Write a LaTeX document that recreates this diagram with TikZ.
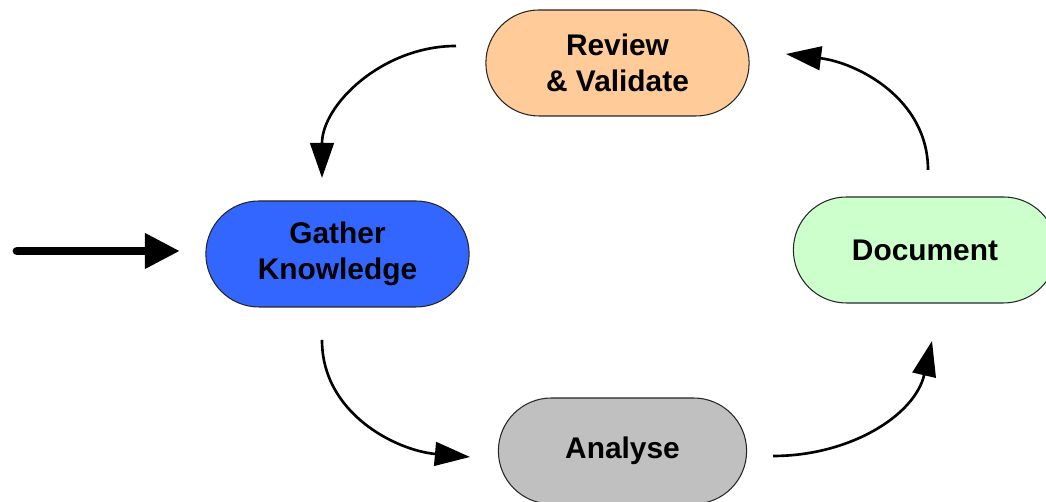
\documentclass[tikz,border=0pt]{standalone}
\usepackage{fontspec}
\setmainfont{Liberation Sans}
\usetikzlibrary{shapes.misc,arrows.meta}
\definecolor{colrev}{HTML}{FFCC99}
\definecolor{colgat}{HTML}{3366FF}
\definecolor{coldoc}{HTML}{CCFFCC}
\definecolor{colana}{HTML}{C0C0C0}
\tikzset{
	fase/.style={rounded rectangle, draw=black!85, line width=0.6pt, minimum width=5.5cm, minimum height=2.12cm, align=center, font=\bfseries\fontsize{17}{20.5}\selectfont},
	freccia/.style={line width=1.5pt, -{Triangle[length=20pt,width=13.5pt]}}
}

\begin{document}
\begin{tikzpicture}[x=0.02cm,y=0.02cm]
		\useasboundingbox (0,0) rectangle (1046,502);
		\node[fase, fill=colrev] (rev) at (617.5,439) {Review\\\& Validate};
		\node[fase, fill=colgat] (gat) at (337.5,248) {Gather\\Knowledge};
		\node[fase, fill=coldoc] (doc) at (925,252) {Document};
		\node[fase, fill=colana, minimum width=5.2cm] (ana) at (622.5,51) {Analyse};
		% estremi delle frecce
		\coordinate (ingresso) at (17,251);
		\coordinate (gat-in) at (180,251);
		\coordinate (rev-out) at (456,456);
		\coordinate (gat-top) at (322,324);
		\coordinate (gat-bot) at (322,162);
		\coordinate (ana-in) at (470,45);
		\coordinate (ana-out) at (773,46);
		\coordinate (doc-in) at (932,161);
		\coordinate (doc-out) at (928,332);
		\coordinate (rev-in) at (786,448);
		\draw[line width=5pt, line cap=round, -{Triangle[length=20pt,width=19pt]}] (ingresso) -- (gat-in); % entrata
		\draw[freccia] (rev-out) to[out=180,in=90] (gat-top);
		\draw[freccia] (gat-bot) to[out=-90,in=175] (ana-in);
		\draw[freccia] (ana-out) to[out=0,in=-103] (doc-in);
		\draw[freccia] (doc-out) to[out=90,in=-7] (rev-in);
	\end{tikzpicture}
\end{document}
